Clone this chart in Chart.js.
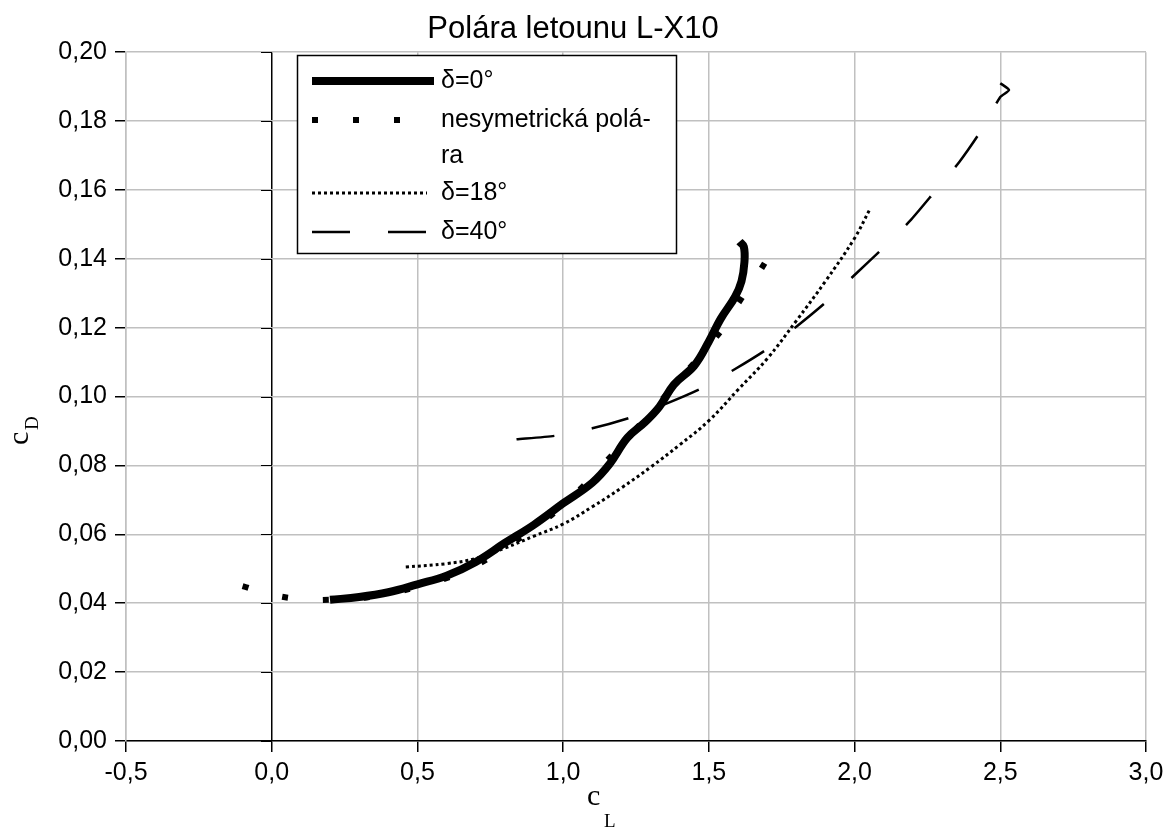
<!DOCTYPE html>
<html>
<head>
<meta charset="utf-8">
<script src="https://cdn.jsdelivr.net/npm/chart.js@4"></script>
<style>
  body { margin: 0; background: #fff; }
</style>
</head>
<body>
<canvas id="polara" width="1170" height="828"></canvas>
<script>
// delta = 0 deg
var cL0 = [0.20, 0.30, 0.40, 0.50, 0.60, 0.70, 0.80, 0.90, 1.00, 1.10, 1.16, 1.22, 1.28, 1.33, 1.38, 1.45, 1.50, 1.54, 1.59, 1.612, 1.622, 1.62, 1.605];
var cD0 = [0.041, 0.0418, 0.0432, 0.0455, 0.048, 0.052, 0.0575, 0.0628, 0.069, 0.075, 0.0805, 0.088, 0.0925, 0.097, 0.1035, 0.109, 0.116, 0.1225, 0.129, 0.1335, 0.139, 0.1435, 0.145];
// nesymetricka polara
var cLn = [-0.10, 0.00, 0.10, 0.20, 0.35, 0.50, 0.65, 0.80, 1.00, 1.20, 1.40, 1.55, 1.60, 1.675, 1.75];
var cDn = [0.045, 0.0425, 0.0412, 0.041, 0.042, 0.0448, 0.049, 0.056, 0.0685, 0.086, 0.105, 0.120, 0.127, 0.1365, 0.147];
// delta = 18 deg
var cL18 = [0.46, 0.60, 0.70, 0.80, 0.90, 1.00, 1.10, 1.20, 1.30, 1.40, 1.50, 1.60, 1.70, 1.80, 1.90, 2.00, 2.05];
var cD18 = [0.0505, 0.0515, 0.053, 0.056, 0.0595, 0.063, 0.068, 0.0735, 0.0795, 0.086, 0.093, 0.102, 0.111, 0.122, 0.1335, 0.146, 0.154];
// delta = 40 deg
var cL40 = [0.84, 0.97, 1.10, 1.23, 1.35, 1.47, 1.59, 1.70, 1.80, 1.90, 2.00, 2.09, 2.19, 2.27, 2.36, 2.43, 2.50, 2.53, 2.50];
var cD40 = [0.0876, 0.0886, 0.0908, 0.0939, 0.0978, 0.1022, 0.108, 0.1138, 0.1203, 0.1273, 0.1353, 0.1425, 0.151, 0.159, 0.1682, 0.1767, 0.187, 0.189, 0.191];

var seriesLabels = ["δ=0°", "nesymetrická polá-\nra", "δ=18°", "δ=40°"];

function pts(xs, ys) {
  return xs.map(function (v, i) { return { x: v, y: ys[i] }; });
}

var font = "'Liberation Sans', Arial, sans-serif";
var serif = "'Liberation Serif', 'Times New Roman', serif";

// legend, axis titles and the ticks on the c_L = 0 axis
var polaraDecor = {
  id: "polaraDecor",
  afterDraw: function (chart) {
    var ctx = chart.ctx;
    var xs = chart.scales.x;
    var ys = chart.scales.y;
    var x0 = Math.round(xs.getPixelForValue(0));
    ctx.save();

    ctx.strokeStyle = "#000";
    ctx.lineWidth = 1;
    ys.ticks.forEach(function (t) {
      var py = Math.round(ys.getPixelForValue(t.value)) + 0.5;
      ctx.beginPath();
      ctx.moveTo(x0 - 11, py);
      ctx.lineTo(x0, py);
      ctx.stroke();
    });

    // axis titles
    ctx.fillStyle = "#000";
    ctx.textBaseline = "alphabetic";
    ctx.textAlign = "left";
    ctx.font = "30px " + serif;
    ctx.fillText("c", 587, 805);
    ctx.font = "19px " + serif;
    ctx.fillText("L", 604, 827);

    ctx.save();
    ctx.translate(28, 445);
    ctx.rotate(-Math.PI / 2);
    ctx.font = "30px " + serif;
    ctx.fillText("c", 0, 0);
    ctx.font = "19px " + serif;
    ctx.fillText("D", 15, 10);
    ctx.restore();

    // legend
    ctx.fillStyle = "#fff";
    ctx.fillRect(297, 55, 380, 198);
    ctx.strokeStyle = "#000";
    ctx.lineWidth = 1.5;
    ctx.strokeRect(297.5, 55.5, 379, 198);

    var rows = [81, 120, 193, 232];
    chart.data.datasets.forEach(function (ds, i) {
      var yy = rows[i];
      ctx.beginPath();
      ctx.strokeStyle = "#000";
      ctx.lineWidth = ds.borderWidth;
      ctx.setLineDash(ds.borderDash || []);
      ctx.lineCap = "butt";
      ctx.moveTo(312, yy);
      ctx.lineTo(i < 2 ? 434 : 427, yy);
      ctx.stroke();
      ctx.setLineDash([]);

      ctx.fillStyle = "#000";
      ctx.font = "25px " + font;
      ctx.textBaseline = "middle";
      var lines = ds.label.split("\n");
      lines.forEach(function (ln, k) {
        ctx.fillText(ln, 441, yy + k * 36);
      });
    });
    ctx.restore();
  }
};

new Chart(document.getElementById("polara").getContext("2d"), {
  type: "scatter",
  data: {
    datasets: [
      {
        label: seriesLabels[0],
        data: pts(cL0, cD0),
        showLine: true,
        borderColor: "#000",
        borderWidth: 8,
        pointRadius: 0,
        tension: 0.4,
      },
      {
        label: seriesLabels[1],
        data: pts(cLn, cDn),
        showLine: true,
        borderColor: "#000",
        borderWidth: 6,
        borderDash: [6, 35],
        pointRadius: 0,
        tension: 0.4,
      },
      {
        label: seriesLabels[2],
        data: pts(cL18, cD18),
        showLine: true,
        borderColor: "#000",
        borderWidth: 3,
        borderDash: [3, 3],
        pointRadius: 0,
        tension: 0.4,
      },
      {
        label: seriesLabels[3],
        data: pts(cL40, cD40),
        showLine: true,
        borderColor: "#000",
        borderWidth: 2.5,
        borderDash: [38, 38],
        pointRadius: 0,
        tension: 0.2,
      },
    ],
  },
  options: {
    responsive: false,
    animation: false,
    layout: {
      padding: { right: 24, left: 0, bottom: 0 },
    },
    plugins: {
      title: {
        display: true,
        text: "Polára letounu L-X10",
        color: "#000",
        font: { family: font, size: 31, weight: "normal" },
        padding: { top: 11, bottom: 4 },
      },
      legend: { display: false },
      tooltip: { enabled: false },
    },
    scales: {
      x: {
        type: "linear",
        min: -0.5,
        max: 3.0,
        afterFit: function (s) { s.height = 87; },
        ticks: {
          stepSize: 0.5,
          color: "#000",
          padding: 6,
          font: { family: font, size: 25 },
          callback: function (v) { return v.toFixed(1).replace(".", ","); },
        },
        grid: {
          color: function (c) { return c.tick && c.tick.value === 0 ? "#000" : "#c0c0c0"; },
          lineWidth: 1.5,
          tickColor: "#000",
          tickLength: 11,
        },
        border: { color: "#000", width: 1.5 },
      },
      y: {
        type: "linear",
        min: 0,
        max: 0.2,
        afterFit: function (s) { s.width = 126; },
        ticks: {
          stepSize: 0.02,
          color: "#000",
          padding: 8,
          font: { family: font, size: 25 },
          callback: function (v) { return v.toFixed(2).replace(".", ","); },
        },
        grid: {
          color: "#c0c0c0",
          lineWidth: 1.5,
          tickColor: "#000",
          tickLength: 11,
        },
        border: { color: "#c0c0c0", width: 1.5 },
      },
    },
  },
  plugins: [polaraDecor],
});
</script>
</body>
</html>
